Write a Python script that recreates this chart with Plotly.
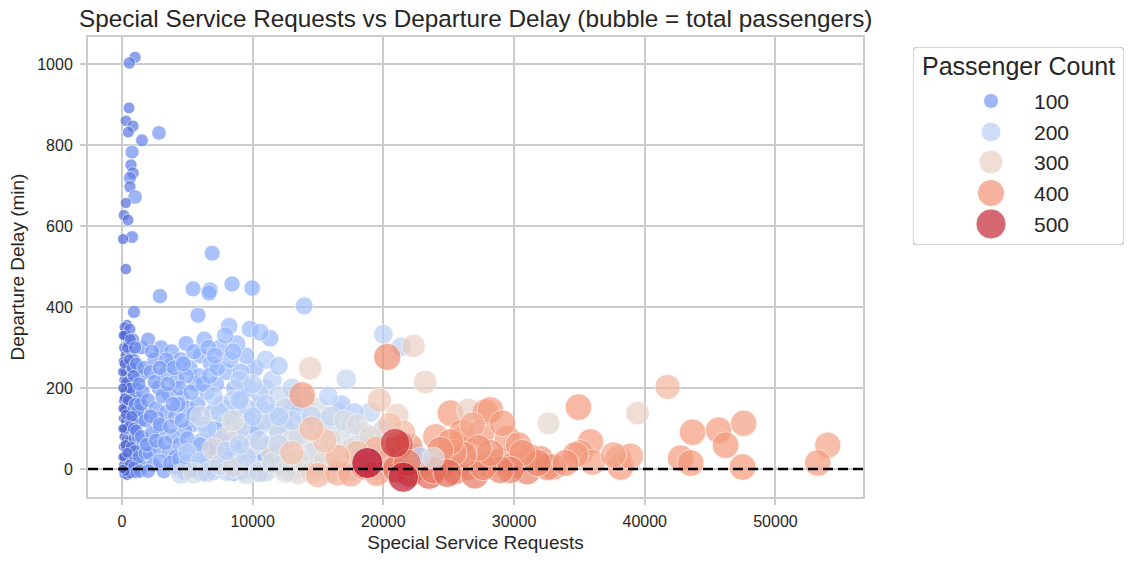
import math
import plotly.graph_objects as go

# ---------------- data (requests, delay in min, passengers) ----------------
outlier_points = [
    (1000, 1017, 55), (560, 1003, 60), (540, 892, 50), (300, 860, 45), (840, 847, 55),
    (480, 832, 50), (2830, 830, 95), (1530, 812, 65), (770, 783, 85), (690, 751, 55),
    (840, 731, 60), (610, 719, 65), (610, 697, 55), (1000, 672, 95), (300, 657, 40),
    (150, 627, 45), (460, 615, 50), (770, 573, 65), (80, 568, 40), (6900, 533, 120),
    (300, 494, 45), (920, 388, 70), (380, 356, 40),
    (2900, 427, 105), (5440, 445, 120), (6740, 442, 125), (6660, 435, 125), (8420, 457, 125),
    (9960, 447, 130), (5820, 380, 120), (13940, 403, 160), (8200, 353, 150), (9800, 346, 150),
    (11340, 323, 150), (10570, 338, 160),
]

low_volume_points = [
    (200, 350, 40), (350, 330, 45), (150, 300, 35), (500, 310, 50), (250, 280, 30),
    (700, 290, 60), (100, 265, 30), (450, 260, 40), (900, 270, 70), (300, 240, 35),
    (600, 235, 45), (1200, 250, 80), (150, 220, 30), (400, 210, 40), (800, 215, 55),
    (1100, 200, 75), (250, 190, 35), (550, 185, 45), (950, 180, 65), (100, 170, 25),
    (350, 160, 35), (700, 165, 50), (1300, 170, 85), (200, 145, 30), (500, 140, 40),
    (850, 150, 60), (1150, 135, 70), (100, 125, 25), (300, 118, 35), (650, 120, 45),
    (1000, 110, 65), (1400, 120, 85), (200, 100, 30), (450, 95, 40), (800, 90, 55),
    (150, 80, 25), (350, 72, 35), (600, 70, 45), (950, 75, 60), (1250, 80, 80),
    (100, 55, 25), (300, 50, 30), (550, 45, 40), (850, 50, 55), (1150, 40, 70),
    (200, 30, 30), (450, 25, 35), (700, 20, 45), (1000, 25, 60), (100, 10, 20),
    (300, 5, 30), (550, 0, 40), (800, -5, 50), (1200, 5, 75), (150, -12, 25),
    (400, -15, 35), (650, -10, 45), (250, 330, 40), (600, 345, 55), (850, 320, 65),
    (1500, 300, 90), (1400, 230, 90), (1600, 190, 95), (1700, 140, 95), (1600, 60, 90),
    (1500, 10, 90), (50, 240, 25), (50, 150, 20), (50, 30, 20), (700, 250, 50),
    (350, 100, 35), (500, 200, 45),
    (100, 330, 30), (400, 300, 40), (650, 320, 50), (200, 260, 35), (550, 270, 45),
    (800, 250, 55), (1000, 300, 70), (1100, 260, 75), (300, 215, 35), (650, 200, 50),
    (900, 230, 65), (200, 175, 30), (450, 170, 40), (1000, 160, 70), (1200, 145, 80),
    (300, 135, 35), (750, 130, 50), (550, 105, 45), (900, 100, 60), (1100, 95, 70),
    (250, 60, 30), (700, 55, 45), (1000, 45, 60), (1300, 30, 80), (400, 40, 35),
    (600, 10, 45), (900, 5, 55), (250, -5, 30), (1100, -8, 65), (1400, -5, 85),
    (50, 100, 20), (50, 200, 25), (50, 0, 20), (1300, 210, 85), (1450, 160, 90),
    (1500, 80, 90), (1700, 250, 100), (1800, 40, 95),
]

mid_volume_points = [
    (2000, 320, 100), (3000, 300, 110), (2500, 270, 105), (3800, 290, 115), (4500, 270, 120),
    (2200, 240, 100), (3300, 235, 110), (4200, 220, 115), (5200, 250, 125), (6000, 280, 130),
    (6800, 260, 135), (7500, 300, 140), (5600, 210, 125), (2800, 200, 105), (3600, 185, 110),
    (4600, 175, 120), (2000, 170, 100), (2600, 150, 105), (3400, 140, 110), (4100, 130, 115),
    (5000, 150, 120), (5800, 160, 130), (6500, 190, 135), (7200, 210, 140), (8000, 240, 145),
    (8600, 200, 145), (9200, 180, 150), (7600, 160, 140), (6900, 140, 135), (5400, 110, 125),
    (4800, 95, 120), (3900, 80, 115), (3000, 100, 110), (2300, 90, 100), (2100, 40, 95),
    (2800, 55, 105), (3600, 40, 110), (4400, 60, 115), (5200, 45, 120), (6100, 70, 130),
    (6800, 90, 135), (7700, 110, 140), (8400, 130, 145), (9000, 90, 150), (9800, 120, 150),
    (10500, 160, 155), (11000, 200, 160), (10200, 250, 155), (9500, 280, 150), (8800, 310, 150),
    (7900, 330, 145), (6300, 320, 135), (2400, 10, 100), (3200, -5, 105), (4000, 5, 115),
    (4800, -8, 120), (5600, 10, 125), (6400, -2, 130), (7200, 20, 135), (8000, 5, 140),
    (8800, 30, 145), (9600, 10, 150), (10400, 40, 155), (11200, 60, 160), (11800, 100, 160),
    (12200, 140, 165), (1800, 120, 95), (1900, 60, 95), (3700, 255, 115), (4900, 310, 120),
    (5900, 230, 130), (7000, 70, 135), (7400, 45, 140), (8300, 70, 145), (9300, 50, 150),
    (10000, 80, 150), (10800, 110, 160), (4300, 160, 118), (2700, 125, 105), (6600, 50, 130),
    (2300, 290, 100), (3400, 270, 110), (2900, 250, 105), (4000, 250, 115), (4900, 230, 120),
    (2500, 215, 100), (3100, 180, 108), (3900, 160, 112), (4400, 200, 118), (5300, 190, 125),
    (6200, 210, 130), (6700, 230, 135), (7300, 250, 140), (8300, 270, 145), (9100, 240, 150),
    (9700, 200, 150), (2200, 130, 100), (2900, 110, 105), (3700, 105, 112), (4600, 120, 118),
    (5500, 135, 125), (6300, 110, 130), (7100, 100, 135), (8000, 150, 145), (8900, 150, 150),
    (10300, 100, 155), (11500, 140, 160), (12500, 110, 165), (13000, 160, 170), (2600, 70, 100),
    (3300, 65, 108), (4100, 30, 115), (5000, 75, 120), (5800, 30, 128), (6500, 15, 132),
    (7600, 75, 140), (8600, 55, 145), (9400, 30, 150), (10200, 20, 155), (11000, 25, 160),
    (11800, 35, 165), (12800, 20, 170), (2000, -5, 95), (2900, 20, 105), (3700, 15, 110),
    (4400, 25, 115), (5300, -3, 122), (6100, -10, 130), (7000, -8, 135), (7900, 25, 140),
    (8500, -10, 145), (9200, -5, 150), (10800, -10, 160), (11600, 5, 165), (12400, 55, 165),
    (3500, 210, 112), (4700, 260, 120), (5500, 290, 125), (6600, 300, 135), (7100, 280, 140),
    (8500, 290, 148), (6000, 60, 130), (5000, 20, 120),
]

upper_mid_points = [
    (5000, 40, 190), (6000, 20, 200), (7000, 0, 210), (8000, -5, 220), (9000, 15, 230),
    (10000, 0, 240), (11000, -5, 250), (12000, 10, 260), (13000, -3, 270), (14000, 20, 270),
    (15000, 5, 260), (16000, -8, 250), (17000, 10, 240), (18000, -2, 230), (19000, 15, 220),
    (21500, 20, 200), (22500, -5, 210), (4500, -12, 220), (5500, -10, 250), (9500, -12, 240),
    (13500, -10, 280), (6500, 100, 200), (7500, 140, 210), (8500, 170, 200), (9500, 150, 210),
    (10500, 190, 210), (11500, 220, 200), (12000, 180, 220), (12500, 150, 230), (13000, 200, 210),
    (14000, 170, 240), (15000, 150, 250), (15500, 120, 200), (16000, 100, 220), (16500, 140, 230),
    (17000, 80, 250), (17500, 110, 200), (18000, 60, 220), (18500, 90, 240), (19000, 140, 210),
    (19500, 40, 230), (20000, 100, 200), (20500, 70, 240), (11000, 120, 230), (12000, 90, 240),
    (13000, 70, 250), (14000, 110, 260), (15000, 60, 270), (16000, 40, 280), (10000, 60, 250),
    (9000, 100, 230), (8000, 80, 260), (7000, 50, 270), (11500, 40, 280), (12500, 30, 265),
    (14500, 40, 240), (13500, 140, 190), (11000, 270, 190), (12000, 255, 180), (9000, 220, 190),
    (10000, 210, 200), (8500, 120, 260), (6000, 130, 240), (7000, 180, 190), (16800, 160, 180),
    (17800, 140, 190), (15800, 180, 200), (21000, 30, 200), (22500, 40, 190), (23200, 15, 205),
    (20800, -5, 220), (20000, 10, 215), (18800, 35, 225),
    (6500, -8, 220), (7500, 10, 240), (8500, 5, 250), (9500, 30, 220), (10500, -8, 230),
    (11500, 15, 240), (12500, -8, 250), (13500, 25, 260), (14500, -8, 280), (15500, 20, 270),
    (16500, 10, 260), (17500, -5, 250), (18500, 20, 240), (19500, -3, 230), (8000, 45, 200),
    (9000, 60, 210), (10500, 70, 220), (12000, 60, 230), (13500, 80, 240), (15000, 90, 250),
    (16000, 70, 260), (17500, 50, 270), (14500, 130, 220), (13000, 120, 210), (12000, 130, 200),
    (11000, 160, 200), (10000, 130, 190), (9000, 170, 185), (16000, 130, 230), (17000, 120, 250),
    (18000, 110, 260), (19000, 80, 280), (20000, 50, 270),
    (20000, 333, 200), (21370, 302, 200), (22300, 304, 300), (17160, 222, 220), (14400, 249, 300),
    (23200, 215, 300), (21060, 133, 300),
]

high_volume_points = [
    (15000, -15, 350), (16500, -10, 360), (17500, -12, 370), (18500, 5, 380), (19500, -10, 390),
    (20500, 20, 400), (21000, 0, 430), (22000, -10, 440), (22800, 5, 410), (23500, -15, 450),
    (24500, 10, 400), (25500, -5, 420), (26500, 5, 400), (27000, -15, 430), (28000, 10, 410),
    (29000, 20, 400), (30000, 10, 410), (31000, -5, 420), (32000, 25, 400), (33000, 5, 390),
    (26000, 70, 400), (24000, 80, 380), (22000, 55, 400), (21500, 90, 350), (19500, 50, 360),
    (18000, 40, 340), (16500, 30, 350), (15500, 70, 330), (14500, 100, 340), (13000, 40, 330),
    (27500, 90, 395), (29500, 75, 390), (31200, 30, 390), (21200, 60, 460), (20500, 110, 330),
    (19700, 170, 320), (13790, 183, 390), (20300, 277, 410),
    (25130, 138, 390), (26500, 146, 300), (27800, 141, 390), (28190, 146, 390), (29110, 113, 390),
    (26040, 91, 395), (26810, 109, 370), (32630, 113, 280), (34930, 153, 390), (35850, 67, 390),
    (35080, 40, 390), (36000, 17, 380), (39450, 138, 300), (41750, 203, 350), (43660, 91, 390),
    (45650, 96, 390), (46190, 59, 395), (47570, 113, 385), (42740, 27, 390), (43510, 15, 395),
    (47490, 5, 395), (54000, 59, 380), (53240, 15, 390), (38150, 5, 395), (38000, 27, 390),
    (38910, 32, 380), (37610, 35, 375), (34700, 35, 390), (32560, 5, 410), (31800, 15, 415),
    (33940, 15, 400), (30340, 59, 390), (30640, 40, 400), (29720, -2, 420), (28950, -2, 420),
    (27650, 5, 410), (28190, 40, 405), (27270, 52, 400), (26120, 35, 405), (25360, 40, 400),
    (25130, 67, 395), (24360, 47, 405), (23820, -2, 430), (24900, -10, 450), (22830, 30, 200),
    (23820, 27, 260), (21830, 15, 430),
    (20900, 64, 490), (18770, 15, 540), (21520, -20, 510),
]

legend_counts = [100, 200, 300, 400, 500]
x_ticks = [0, 10000, 20000, 30000, 40000, 50000]
y_ticks = [0, 200, 400, 600, 800, 1000]

# ---------------- styling ----------------
FONT = "Liberation Sans, Arial, sans-serif"
TXT = "#262626"
GRID = "#cccccc"
W, H = 1134, 564
PL, PR, PT, PB = 88, 863, 37, 497  # plot area in figure pixels

coolwarm = [
    [0.0, "rgb(59,76,192)"], [0.125, "rgb(98,130,234)"], [0.25, "rgb(141,176,254)"],
    [0.375, "rgb(184,208,249)"], [0.5, "rgb(221,221,221)"], [0.625, "rgb(245,196,173)"],
    [0.75, "rgb(244,154,123)"], [0.875, "rgb(222,96,77)"], [1.0, "rgb(180,4,38)"],
]
CMIN, CMAX = 0, 525


def size_of(p):
    return math.sqrt(56 + 1.69 * p)


all_points = outlier_points + low_volume_points + mid_volume_points + upper_mid_points + high_volume_points
requests = [p[0] for p in all_points]
delay = [p[1] for p in all_points]
passengers = [p[2] for p in all_points]

fig = go.Figure()
fig.add_trace(go.Scatter(
    x=requests, y=delay, mode="markers", showlegend=False,
    marker=dict(color=passengers, colorscale=coolwarm, cmin=CMIN, cmax=CMAX,
                size=[size_of(p) for p in passengers], opacity=0.7,
                line=dict(color="white", width=0.8)),
    xaxis="x", yaxis="y",
))

# legend drawn on an auxiliary pixel-unit axis
LX0, LX1, LY0, LY1 = 913, 1124, 47, 245
lw, lh = LX1 - LX0, LY1 - LY0
row_y = [54, 85, 115, 146, 177]
fig.add_trace(go.Scatter(
    x=[78] * len(legend_counts), y=row_y, mode="markers", showlegend=False,
    marker=dict(color=legend_counts, colorscale=coolwarm, cmin=CMIN, cmax=CMAX,
                size=[size_of(p) for p in legend_counts], opacity=0.7,
                line=dict(color="white", width=0.8)),
    xaxis="x2", yaxis="y2", hoverinfo="skip",
))

annotations = [
    dict(text="Special Service Requests vs Departure Delay (bubble = total passengers)",
         xref="paper", yref="paper", x=(PL + PR) / 2 / W, y=1 - 19 / H,
         xanchor="center", yanchor="middle", showarrow=False,
         font=dict(family=FONT, size=24.3, color=TXT)),
    dict(text="Passenger Count", xref="x2", yref="y2", x=105, y=19,
         xanchor="center", yanchor="middle", showarrow=False,
         font=dict(family=FONT, size=25, color=TXT)),
]
for c, yy in zip(legend_counts, row_y):
    annotations.append(dict(text=str(c), xref="x2", yref="y2", x=119, y=yy,
                            xanchor="left", yanchor="middle", showarrow=False,
                            font=dict(family=FONT, size=21, color=TXT)))

r = 5
box_path = (f"M{r},0 L{lw - r},0 Q{lw},0 {lw},{r} L{lw},{lh - r} Q{lw},{lh} {lw - r},{lh} "
            f"L{r},{lh} Q0,{lh} 0,{lh - r} L0,{r} Q0,0 {r},0 Z")

shapes = [
    dict(type="line", xref="x domain", yref="y", x0=0, x1=1, y0=0, y1=0,
         line=dict(color="black", width=2.5, dash="10px,5px"), layer="above"),
    dict(type="path", xref="x2", yref="y2", path=box_path,
         line=dict(color=GRID, width=1.5), fillcolor="white", layer="below"),
]

fig.update_layout(
    width=W, height=H,
    margin=dict(l=0, r=0, t=0, b=0),
    paper_bgcolor="white", plot_bgcolor="white",
    font=dict(family=FONT, color=TXT),
    xaxis=dict(domain=[PL / W, PR / W], range=[-2600, 56700], tickvals=x_ticks,
               ticktext=[str(v) for v in x_ticks],
               showgrid=True, gridcolor=GRID, gridwidth=1.8, zeroline=False,
               showline=True, linecolor=GRID, linewidth=2, mirror=True,
               ticks="outside", ticklen=6, tickcolor=GRID, tickwidth=1.8,
               tickfont=dict(size=16, color=TXT), ticklabelstandoff=3,
               title=dict(text="Special Service Requests", font=dict(size=19, color=TXT), standoff=6),
               automargin=False, anchor="y"),
    yaxis=dict(domain=[1 - PB / H, 1 - PT / H], range=[-69, 1067], tickvals=y_ticks,
               ticktext=[str(v) for v in y_ticks],
               showgrid=True, gridcolor=GRID, gridwidth=1.8, zeroline=False,
               showline=True, linecolor=GRID, linewidth=2, mirror=True,
               ticks="outside", ticklen=6, tickcolor=GRID, tickwidth=1.8,
               tickfont=dict(size=16, color=TXT), ticklabelstandoff=4,
               title=dict(text="Departure Delay (min)", font=dict(size=19, color=TXT), standoff=8),
               automargin=False, anchor="x"),
    xaxis2=dict(domain=[LX0 / W, LX1 / W], range=[0, lw], visible=False, fixedrange=True, anchor="y2"),
    yaxis2=dict(domain=[1 - LY1 / H, 1 - LY0 / H], range=[lh, 0], visible=False, fixedrange=True, anchor="x2"),
    annotations=annotations,
    shapes=shapes,
)

fig.write_html(
    "out.html",
    config={"displayModeBar": False},
    post_script="document.body.style.margin='0';document.body.style.overflow='hidden';",
)
